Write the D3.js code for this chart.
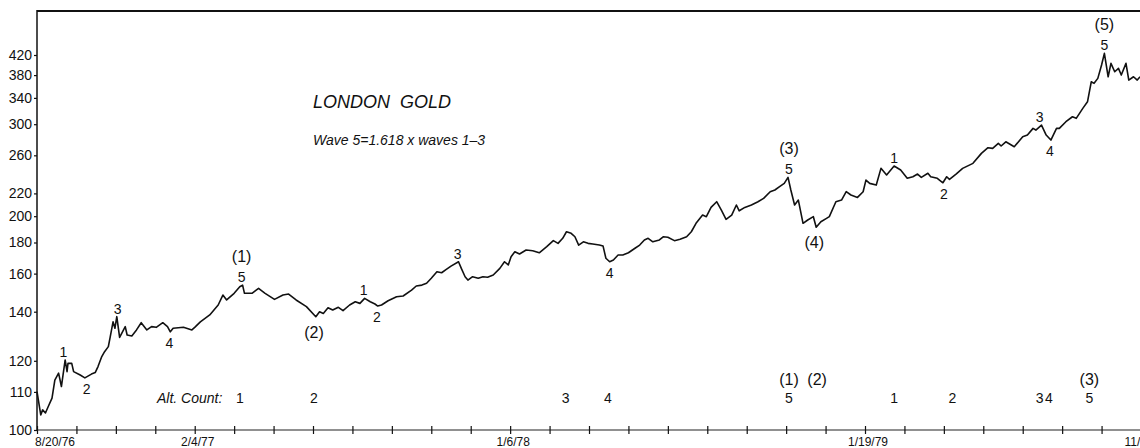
<!DOCTYPE html>
<html>
<head>
<meta charset="utf-8">
<script src="https://cdn.jsdelivr.net/npm/d3@7"></script>
<style>
  body { margin: 0; background: #fff; }
  svg { display: block; font-family: "Liberation Sans", Arial, sans-serif; }
</style>
</head>
<body>
<div id="chart"></div>
<script>
// Set Dimensions
const width = 1140;
const height = 448;
const plotLeft = 37, plotRight = 1141, plotTop = 11, plotBottom = 430;

// London gold, days counted from 8/20/76
const startDate = new Date(1976, 7, 20);
const endDate = new Date(1979, 10, 9);
const days = [0, 4, 6, 9, 12, 16, 19, 23, 26, 30, 32, 33, 37, 39, 46, 51, 58, 62, 65, 69, 72, 76, 78, 81, 83, 85, 88, 94, 96, 101, 106, 111, 117, 122, 127, 134, 139, 142, 145, 156, 165, 168, 174, 184, 193, 198, 202, 210, 216, 219, 221, 229, 236, 243, 253, 262, 268, 276, 287, 297, 301, 305, 310, 315, 321, 326, 333, 339, 344, 349, 355, 360, 363, 367, 374, 383, 390, 399, 404, 410, 415, 420, 426, 431, 436, 441, 449, 452, 456, 459, 464, 470, 475, 480, 486, 493, 498, 502, 505, 509, 514, 521, 528, 535, 543, 550, 555, 560, 564, 569, 573, 577, 582, 587, 592, 599, 603, 606, 610, 614, 619, 624, 630, 637, 642, 647, 651, 656, 663, 667, 672, 679, 685, 692, 697, 702, 709, 713, 718, 724, 729, 734, 740, 745, 748, 754, 761, 768, 774, 781, 786, 791, 796, 800, 803, 807, 811, 816, 821, 827, 830, 835, 841, 844, 851, 857, 862, 867, 874, 880, 883, 887, 894, 899, 905, 913, 920, 927, 933, 938, 942, 949, 952, 959, 965, 969, 972, 979, 986, 997, 1006, 1013, 1018, 1024, 1027, 1032, 1041, 1050, 1055, 1061, 1064, 1070, 1075, 1080, 1086, 1089, 1096, 1103, 1107, 1114, 1119, 1123, 1126, 1130, 1134, 1137, 1141, 1144, 1148, 1152, 1155, 1160, 1163, 1168, 1172, 1175];
const prices = [110.1, 103.7, 105.0, 104.2, 105.9, 108.2, 113.6, 115.8, 111.6, 120.3, 116.3, 119.1, 119.1, 116.3, 115.2, 114.3, 115.5, 116.0, 118.0, 121.5, 123.3, 125.2, 129.0, 135.4, 132.6, 137.7, 128.8, 133.3, 129.8, 129.4, 131.9, 135.0, 131.9, 133.3, 133.0, 135.0, 133.3, 131.1, 132.6, 133.0, 131.9, 133.0, 135.4, 138.5, 143.2, 148.2, 145.7, 149.1, 152.6, 153.5, 149.1, 149.1, 151.7, 149.1, 146.0, 148.2, 148.7, 145.7, 142.4, 137.7, 140.0, 139.2, 141.9, 140.8, 142.1, 140.5, 143.2, 144.8, 144.0, 146.5, 144.8, 143.7, 142.7, 143.2, 145.3, 147.3, 147.7, 150.8, 153.0, 153.5, 154.5, 157.3, 161.1, 160.5, 162.5, 164.5, 167.2, 163.1, 158.2, 156.3, 158.2, 157.3, 158.2, 157.9, 159.2, 163.1, 167.2, 165.2, 170.4, 173.7, 172.2, 174.8, 174.3, 173.0, 177.1, 181.3, 179.4, 183.0, 187.8, 186.6, 184.1, 178.2, 180.5, 179.4, 178.9, 178.2, 177.5, 169.4, 167.2, 168.3, 171.5, 171.5, 173.0, 176.0, 178.2, 181.8, 183.0, 180.5, 181.8, 184.1, 183.7, 181.3, 182.3, 184.1, 187.8, 194.3, 200.9, 199.6, 207.4, 212.4, 205.1, 197.4, 200.9, 209.5, 204.5, 207.4, 209.5, 212.4, 215.4, 221.6, 223.2, 226.4, 229.7, 235.8, 223.2, 209.5, 213.9, 194.3, 196.9, 199.6, 191.2, 195.5, 198.2, 199.6, 212.4, 213.9, 221.6, 218.5, 216.3, 221.6, 233.0, 229.7, 228.0, 245.3, 238.2, 247.8, 243.5, 234.8, 236.4, 239.2, 235.8, 240.0, 236.4, 234.8, 230.3, 236.4, 233.7, 239.2, 245.3, 250.8, 262.3, 269.1, 268.3, 274.5, 271.2, 276.5, 270.3, 283.0, 285.2, 294.2, 291.9, 298.8, 285.2, 278.7, 294.2, 294.2, 303.5, 310.7, 308.4, 323.3, 333.7, 367.7, 364.9, 373.9, 399.4, 423.5, 376.9, 402.8, 386.3, 392.9, 380.1, 402.8, 370.8, 376.9, 370.8, 376.9];

// Axis ticks
const yTicks = [100, 110, 120, 140, 160, 180, 200, 220, 260, 300, 340, 380, 420];
const xTickStepDays = 42;
const xLabelDates = ["1976-08-20", "1977-02-04", "1978-01-06", "1979-01-19", "1979-11-09"];
const xLabelTexts = ["8/20/76", "2/4/77", "1/6/78", "1/19/79", "11/9/79"];

// Elliott wave counts along the line
const waveDays  = [28, 53, 86, 141, 218, 295, 348, 362, 448, 610, 801, 828, 913, 966, 1068, 1079, 1137];
const waveTexts = ["1", "2", "3", "4", "5", "(2)", "1", "2", "3", "4", "5", "(4)", "1", "2", "3", "4", "5"];
const waveUpper = ["", "", "", "", "(1)", "", "", "", "", "", "(3)", "", "", "", "", "", "(5)"];
const waveSide  = ["up", "down", "up", "down", "up", "down", "up", "down", "up", "down", "up", "down", "up", "down", "up", "down", "up"];

// Alternate count row
const altDays  = [216, 295, 563, 608, 801, 831, 913, 975, 1068, 1078, 1121];
const altTexts = ["1", "2", "3", "4", "5", "(2)", "1", "2", "3", "4", "5"];
const altUpper = ["", "", "", "", "(1)", "", "", "", "", "", "(3)"];

const parseDate = d3.timeParse("%Y-%m-%d");
const dayToDate = d => d3.timeDay.offset(startDate, d);

const data = days.map((d, i) => ({ date: dayToDate(d), day: d, price: prices[i] }));

const svg = d3.select("#chart").append("svg")
  .attr("width", width)
  .attr("height", height);

// X scale
const xScale = d3.scaleTime()
  .domain([startDate, endDate])
  .range([plotLeft, plotRight]);

// Y scale: the price axis is logarithmic in (price - 60)
const priceOffset = 60;
const yLog = d3.scaleLog()
  .domain([100 - priceOffset, 420 - priceOffset])
  .range([plotBottom, 55]);
const yScale = v => yLog(v - priceOffset);

// Frame
svg.append("line")
  .attr("x1", plotLeft).attr("x2", width).attr("y1", plotTop).attr("y2", plotTop)
  .attr("stroke", "#111").attr("stroke-width", 2);
svg.append("line")
  .attr("x1", plotLeft).attr("x2", plotLeft).attr("y1", plotTop - 1).attr("y2", plotBottom)
  .attr("stroke", "#111").attr("stroke-width", 1.5);

// Y Axis
const yAxis = svg.append("g")
  .attr("transform", "translate(" + plotLeft + ",0)")
  .call(d3.axisLeft(yLog)
    .tickValues(yTicks.map(v => v - priceOffset))
    .tickFormat(d => Math.round(d + priceOffset))
    .tickSize(3)
    .tickPadding(2));
yAxis.select(".domain").remove();
yAxis.selectAll("line").attr("stroke", "#111").attr("stroke-width", 1.2);
yAxis.selectAll("text")
  .attr("fill", "#111")
  .style("font-size", "14px")
  .style("font-family", "Liberation Sans, Arial, sans-serif");

// X Axis
const xTicks = d3.range(0, 1177, xTickStepDays).map(dayToDate);
const xAxis = svg.append("g")
  .attr("transform", "translate(0," + plotBottom + ")")
  .call(d3.axisBottom(xScale).tickValues(xTicks).tickFormat("").tickSize(4));
xAxis.select(".domain")
  .attr("d", "M" + plotLeft + ",0H" + width)
  .attr("stroke", "#222").attr("stroke-width", 1.2);
xAxis.selectAll(".tick line")
  .attr("y1", -4).attr("y2", 4)
  .attr("stroke", "#111").attr("stroke-width", 1.2);

// date labels; the last one runs off the right edge as in the print
svg.append("g").selectAll("text")
  .data(xLabelDates)
  .enter().append("text")
  .attr("x", (d, i) => xScale(parseDate(d)) + (i === 0 ? -2 : 3))
  .attr("y", plotBottom + 16)
  .attr("text-anchor", (d, i) => i === 0 ? "start" : "middle")
  .style("font-size", "12px")
  .attr("fill", "#111")
  .text((d, i) => xLabelTexts[i]);

// Price line
const line = d3.line()
  .x(d => xScale(d.date))
  .y(d => yScale(d.price));

svg.append("path")
  .datum(data)
  .attr("d", line)
  .attr("fill", "none")
  .attr("stroke", "#111")
  .attr("stroke-width", 1.6)
  .attr("stroke-linejoin", "round");

// Wave labels: above a local high, below a local low
function localExtreme(day, side) {
  const near = data.filter(d => Math.abs(d.day - day) <= 5);
  return side === "up" ? d3.max(near, d => d.price) : d3.min(near, d => d.price);
}

const waves = svg.append("g").attr("fill", "#111").attr("text-anchor", "middle");
waveDays.forEach((day, i) => {
  const px = xScale(dayToDate(day));
  const py = yScale(localExtreme(day, waveSide[i]));
  const isParen = waveTexts[i].startsWith("(");
  const base = waveSide[i] === "up" ? py - 3 : py + (isParen ? 21 : 16);
  waves.append("text")
    .attr("x", px).attr("y", base)
    .style("font-size", isParen ? "16px" : "14px")
    .text(waveTexts[i]);
  if (waveUpper[i]) {
    waves.append("text")
      .attr("x", px).attr("y", base - 20)
      .style("font-size", "16px")
      .text(waveUpper[i]);
  }
});

// Alt. Count row
const alt = svg.append("g").attr("fill", "#111");
alt.append("text")
  .attr("x", 157).attr("y", 403)
  .style("font-size", "14px")
  .style("font-style", "italic")
  .text("Alt. Count:");
altDays.forEach((day, i) => {
  const px = xScale(dayToDate(day));
  const isParen = altTexts[i].startsWith("(");
  alt.append("text")
    .attr("x", px).attr("y", isParen ? 385 : 403)
    .attr("text-anchor", "middle")
    .style("font-size", isParen ? "16px" : "14px")
    .text(altTexts[i]);
  if (altUpper[i]) {
    alt.append("text")
      .attr("x", px).attr("y", 385)
      .attr("text-anchor", "middle")
      .style("font-size", "16px")
      .text(altUpper[i]);
  }
});

// Title
svg.append("text")
  .attr("x", 313).attr("y", 108)
  .style("font-size", "18px")
  .style("font-style", "italic")
  .attr("fill", "#111")
  .attr("xml:space", "preserve")
  .text("LONDON  GOLD");

svg.append("text")
  .attr("x", 313).attr("y", 145)
  .style("font-size", "14px")
  .style("font-style", "italic")
  .attr("fill", "#111")
  .text("Wave 5=1.618 x waves 1\u20133");
</script>
</body>
</html>
